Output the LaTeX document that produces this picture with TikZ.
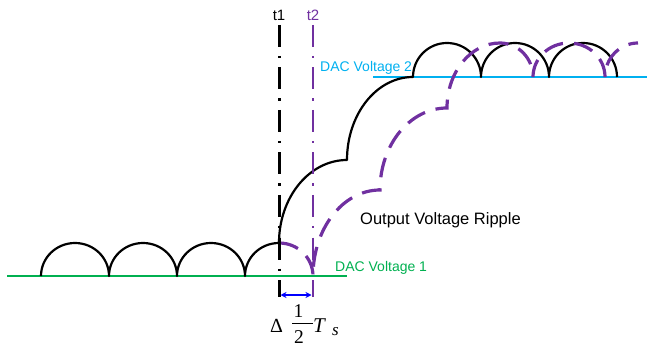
\documentclass[tikz,border=0pt]{standalone}
\usepackage{fontspec}
\setmainfont{Liberation Sans}
\newfontfamily\timesfont{Liberation Serif}
\usetikzlibrary{arrows.meta}
\definecolor{dacblue}{HTML}{00B0F0}
\definecolor{dacgreen}{HTML}{00B050}
\definecolor{rpurple}{HTML}{7030A0}
\begin{document}
\begin{tikzpicture}[x=1pt,y=-1pt,
  lbl/.style={inner sep=0pt, font=\fontsize{14}{16}\selectfont},
  biglbl/.style={inner sep=0pt, font=\fontsize{16.5}{18}\selectfont},
  digitlbl/.style={inner sep=0pt, anchor=base, font=\timesfont\fontsize{19.5}{22}\selectfont},
  mathlbl/.style={inner sep=0pt, anchor=base west, font=\timesfont\itshape\fontsize{21}{24}\selectfont},
  levelline/.style={line width=2.6pt},
  response/.style={line width=2.2pt, line join=round},
  delayed/.style={rpurple, line width=3.2pt, dash pattern=on 20pt off 11pt},
  marker/.style={line width=3pt, dash pattern=on 22pt off 9pt on 2.5pt off 9pt},
  deltaarrow/.style={blue, line width=2pt, {Stealth[length=6pt,width=6pt]}-{Stealth[length=6pt,width=6pt]}}
]
\useasboundingbox (0,0) rectangle (647,347);

% reference levels
\coordinate (g1) at (7,276);
\coordinate (g2) at (347,276);
\coordinate (b1) at (373,77);
\coordinate (b2) at (647,77);
\draw[levelline, dacgreen] (g1) -- (g2);
\draw[levelline, dacblue] (b1) -- (b2);

% output voltage (black)
\draw[response]
  (41,276) .. controls (41,257.8) and (56.2,243) .. (75,243)
  .. controls (93.8,243) and (109,257.8) .. (109,276)
  .. controls (109,257.8) and (124.2,243) .. (143,243)
  .. controls (161.8,243) and (177,257.8) .. (177,276)
  .. controls (177,257.8) and (192.2,243) .. (211,243)
  .. controls (229.8,243) and (245,257.8) .. (245,276)
  .. controls (245,257.8) and (260.2,243) .. (279,243)
  .. controls (279,197.2) and (309.4,160) .. (347,160)
  .. controls (347,114.2) and (376.5,77) .. (413,77)
  .. controls (413,58.2) and (428.2,43) .. (447,43)
  .. controls (465.8,43) and (481,58.2) .. (481,77)
  .. controls (481,58.2) and (496.2,43) .. (515,43)
  .. controls (533.8,43) and (549,58.2) .. (549,77)
  .. controls (549,58.2) and (564.2,43) .. (583,43)
  .. controls (601.8,43) and (617,58.2) .. (617,77);

% delayed output (purple dashed)
\draw[delayed]
  (279,243) .. controls (297.8,243) and (313,257.8) .. (313,276)
  .. controls (313,228.5) and (343,190) .. (380,190)
  .. controls (380,144.7) and (410,108) .. (447,108)
  .. controls (447,72.1) and (470.7,43) .. (500,43)
  .. controls (518.2,43) and (533,58.2) .. (533,77)
  .. controls (533,58.2) and (549.1,43) .. (569,43)
  .. controls (588.9,43) and (605,58.2) .. (605,77)
  .. controls (605,58.2) and (619.8,43) .. (638,43);

% time markers
\node[lbl, font=\fontsize{15}{17}\selectfont, anchor=base] (t1) at (279,21) {t1};
\node[lbl, font=\fontsize{15}{17}\selectfont, anchor=base, text=rpurple] (t2) at (313,21) {t2};
\coordinate (t1top) at (279,25);
\coordinate (t1bot) at (279,297);
\coordinate (t2top) at (313,25);
\coordinate (t2bot) at (313,297);
\draw[marker] (t1top) -- (t1bot);
\draw[marker, rpurple, line width=2.7pt] (t2top) -- (t2bot);

% delta arrow
\coordinate (d1) at (280.5,295);
\coordinate (d2) at (311.5,295);
\draw[deltaarrow] (d1) -- (d2);

% labels
\node[lbl, anchor=base west, text=dacblue] (dac2) at (320,72) {DAC Voltage 2};
\node[lbl, anchor=base west, text=dacgreen] (dac1) at (335,271) {DAC Voltage 1};
\node[biglbl, anchor=base west] (ripple) at (360,225) {Output Voltage Ripple};

% Delta (1/2) T_s
\node[inner sep=0pt, anchor=base, font=\timesfont\fontsize{20}{23}\selectfont] (delta) at (276.5,332) {Δ};
\node[digitlbl] (num) at (298.5,317) {1};
\node[digitlbl] (den) at (299,343.5) {2};
\coordinate (bar1) at (292,323);
\coordinate (bar2) at (313,323);
\draw[line width=0.9pt] (bar1) -- (bar2);
\node[mathlbl] (tee) at (313,332) {T};
\node[mathlbl, font=\timesfont\itshape\fontsize{17}{20}\selectfont] (ess) at (332,335) {s};
\end{tikzpicture}
\end{document}
